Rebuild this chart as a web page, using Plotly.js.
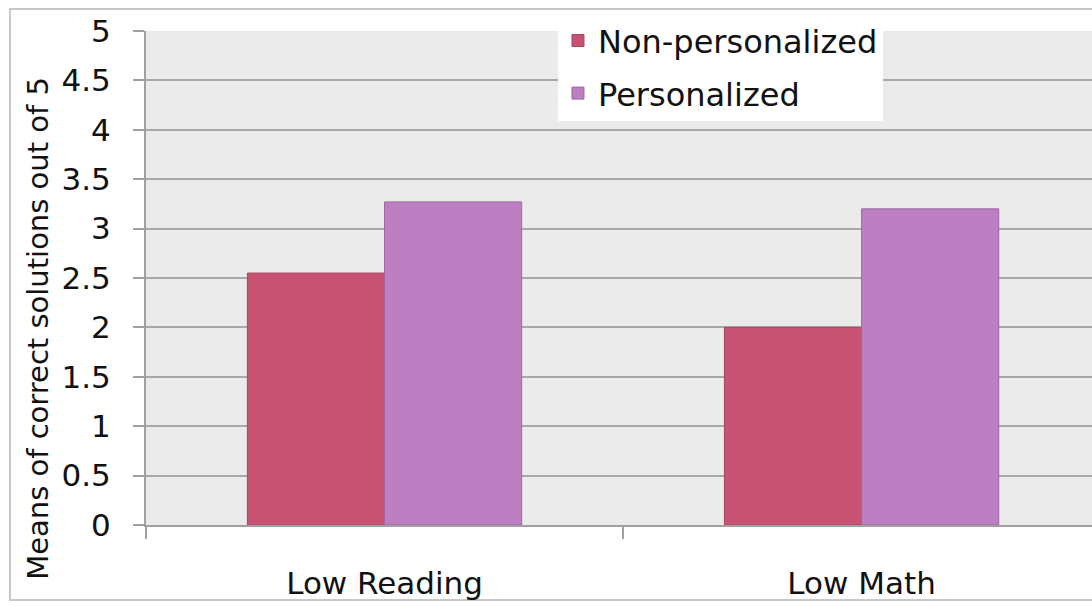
<!DOCTYPE html>
<html>
<head>
<meta charset="utf-8">
<script src="https://cdn.plot.ly/plotly-3.0.1.min.js"></script>
<style>html,body{margin:0;padding:0;background:#fff;}#chart{width:1092px;height:606px;}</style>
</head>
<body>
<div id="chart"></div>
<script>
const categories = ["Low Reading", "Low Math"];
const seriesNames = ["Non-personalized", "Personalized"];
const nonPersonalized = [2.55, 2.0];
const personalized = [3.27, 3.2];
const yTickVals = [0, 0.5, 1, 1.5, 2, 2.5, 3, 3.5, 4, 4.5, 5];
const yTickText = ["0", "0.5", "1", "1.5", "2", "2.5", "3", "3.5", "4", "4.5", "5"];
const yTitle = "Means of correct solutions out of 5";

const FONT = "DejaVu Sans, Verdana, sans-serif";

const traces = [
  {type: "bar", name: seriesNames[0], x: categories, y: nonPersonalized, legendgroup: "a",
   marker: {color: "#c85274", line: {color: "#a8445f", width: 1}}},
  {type: "bar", name: seriesNames[1], x: categories, y: personalized, legendgroup: "b",
   marker: {color: "#bd7fc2", line: {color: "#9e68a4", width: 1}}}
];

const layout = {
  width: 1092, height: 606,
  margin: {l: 146, r: 0, t: 31, b: 81, pad: 0},
  paper_bgcolor: "#ffffff",
  plot_bgcolor: "#ebebeb",
  font: {family: FONT, size: 32, color: "#111111"},
  barmode: "group",
  bargap: 0.425,
  bargroupgap: 0,
  showlegend: true,
  legend: {x: 0.4355, y: 1.036, xanchor: "left", yanchor: "top",
           bgcolor: "#ffffff", borderwidth: 0, font: {family: FONT, size: 32, color: "#111"},
           traceorder: "grouped", tracegroupgap: 8, itemwidth: 30},
  xaxis: {type: "category", range: [-0.5, 1.483], tickson: "boundaries",
          ticks: "outside", ticklen: 12, tickwidth: 2, tickcolor: "#a0a0a0",
          showline: true, linecolor: "#a0a0a0", linewidth: 2,
          showgrid: false, zeroline: false, ticklabelstandoff: 30,
          tickfont: {family: FONT, size: 31, color: "#111"}},
  yaxis: {range: [0, 5], tickvals: yTickVals, ticktext: yTickText,
          ticks: "outside", ticklen: 11, tickwidth: 2, tickcolor: "#a0a0a0",
          showline: true, linecolor: "#a0a0a0", linewidth: 2,
          showgrid: true, gridcolor: "#a8a8a8", gridwidth: 2, zeroline: false,
          ticklabelstandoff: 16,
          tickfont: {family: FONT, size: 31, color: "#111"}},
  annotations: [{text: yTitle, xref: "paper", yref: "paper", x: -0.1142, y: 0.399,
                 xanchor: "center", yanchor: "middle", textangle: -90, showarrow: false,
                 font: {family: FONT, size: 29, color: "#111"}}],
  shapes: [{type: "rect", xref: "paper", yref: "paper", x0: -0.1438, x1: 1.05, y0: -0.1518, y1: 1.0445,
            line: {color: "#c8c8c8", width: 2}, fillcolor: "rgba(0,0,0,0)", layer: "below"}]
};

Plotly.newPlot("chart", traces, layout, {displayModeBar: false, staticPlot: true});
</script>
</body>
</html>
